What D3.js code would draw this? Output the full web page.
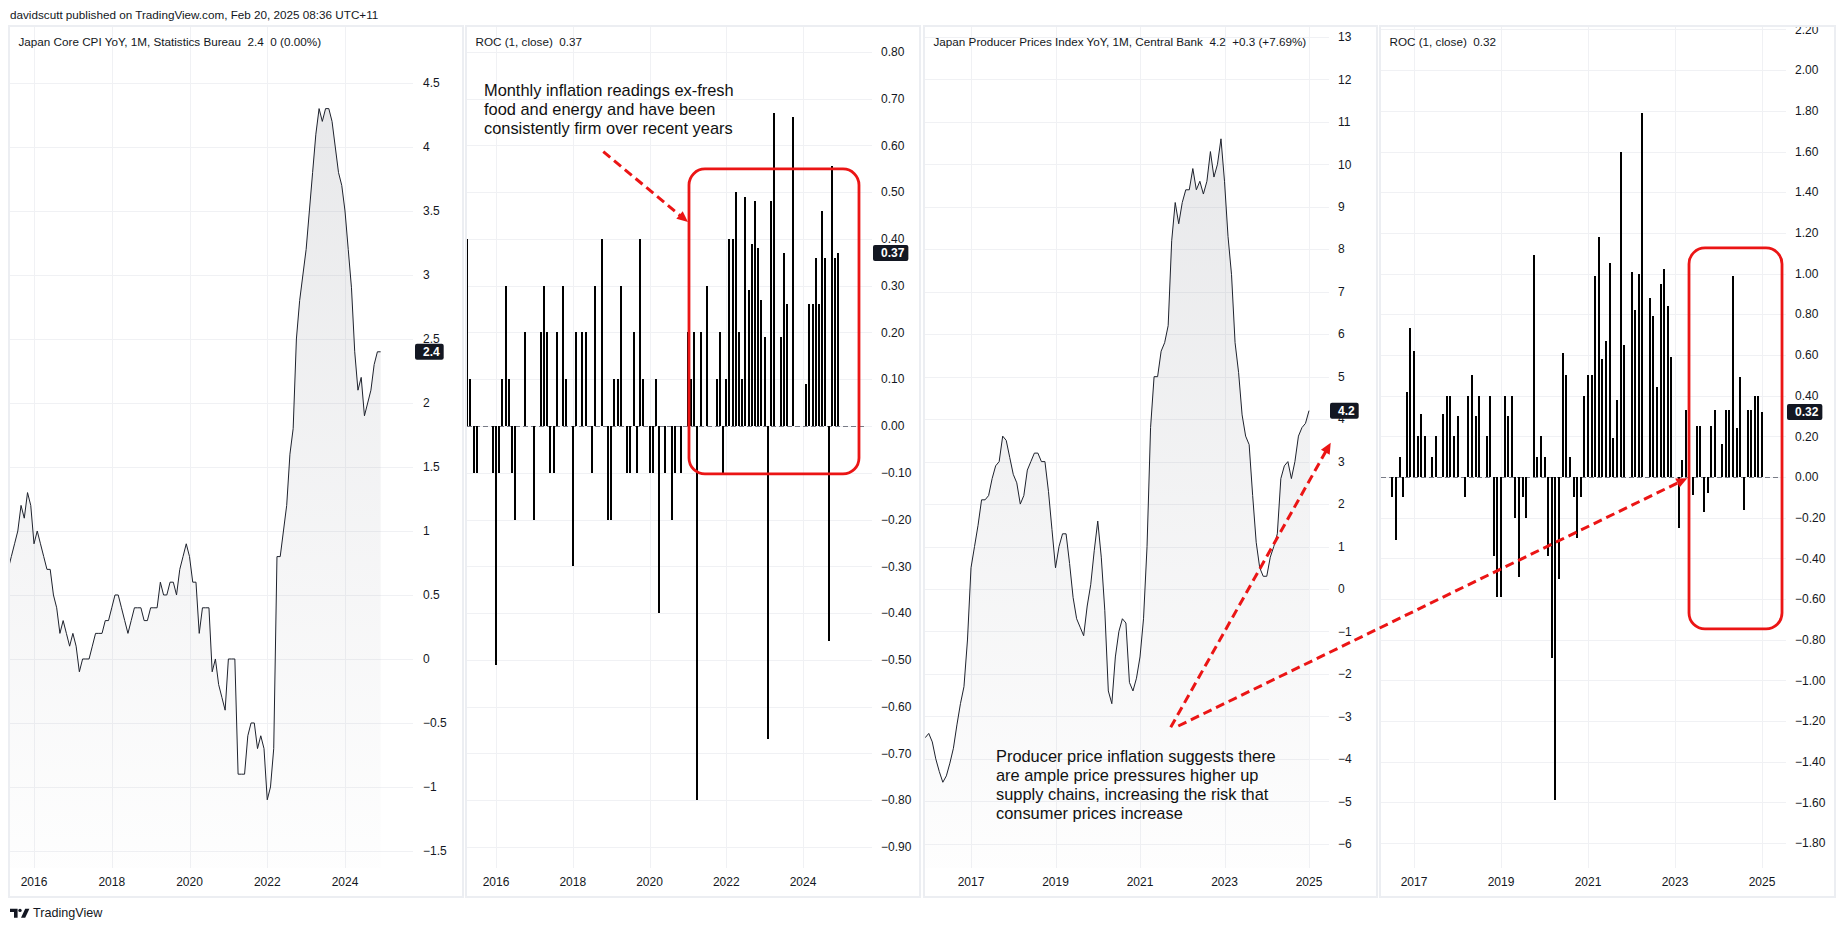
<!DOCTYPE html>
<html>
<head>
<meta charset="utf-8">
<script src="https://cdn.jsdelivr.net/npm/d3@7/dist/d3.min.js"></script>
<style>
body { margin: 0; background: #ffffff; }
svg text { font-family: "Liberation Sans", Arial, sans-serif; white-space: pre; }
</style>
</head>
<body>
<svg id="chart" width="1844" height="931"></svg>
<script>
// ---- monthly values ----
var cpiYoYStart = 2015 + 4 / 12;   // May 2015
var cpiYoY = [0.7, 0.8, 0.9, 1.0, 1.2, 1.1, 1.3, 1.2,
  0.9, 1.0, 0.9, 0.8, 0.7, 0.7, 0.5, 0.4, 0.2, 0.3, 0.2, 0.1,
  0.2, 0.1, -0.1, 0, 0, 0, 0.1, 0.2, 0.2, 0.2, 0.3, 0.3,
  0.4, 0.5, 0.5, 0.4, 0.3, 0.2, 0.3, 0.4, 0.4, 0.4, 0.3, 0.3,
  0.4, 0.4, 0.4, 0.6, 0.5, 0.5, 0.6, 0.6, 0.5, 0.7, 0.8, 0.9,
  0.8, 0.6, 0.6, 0.2, 0.4, 0.4, 0.4, -0.1, 0, -0.2, -0.3, -0.4,
  0, 0, 0, -0.9, -0.9, -0.9, -0.6, -0.5, -0.5, -0.7, -0.6, -0.7,
  -1.1, -1.0, -0.7, 0.8, 0.8, 1.0, 1.2, 1.6, 1.8, 2.5, 2.8, 3.0,
  3.2, 3.5, 3.8, 4.1, 4.3, 4.2, 4.3, 4.3, 4.2, 4.0, 3.8, 3.7,
  3.5, 3.2, 2.9, 2.4, 2.1, 2.2, 1.9, 2.0, 2.1, 2.3, 2.4, 2.4];

var cpiRocStart = 2015 + 3 / 12;   // Apr 2015
var cpiRoc = [0.4, 0.1, -0.1, -0.1, 0, 0, 0, 0, -0.1,
  -0.51, -0.1, 0.1, 0.3, 0.1, -0.1, -0.2, 0, 0, 0.2, 0, 0,
  -0.2, 0, 0.2, 0.3, 0.2, -0.1, -0.1, 0.2, 0, 0.3, 0.1, 0,
  -0.3, 0.2, 0, 0.2, 0.2, 0, -0.1, 0.3, 0, 0.4, 0, -0.2,
  -0.2, 0.1, 0.1, 0.3, 0, -0.1, -0.1, 0.2, -0.1, 0.4, 0.1, 0,
  -0.1, -0.1, 0.1, -0.4, 0, -0.1, 0, -0.2, -0.1, 0, -0.1, 0,
  0.2, 0.1, 0.2, -0.8, 0.2, 0, 0.3, 0, 0, 0.1, 0.2, -0.1,
  0.1, 0.4, 0.4, 0.5, 0.2, 0.1, 0.49, 0.29, 0.39, 0.48, 0.38, 0.27,
  0.19, -0.67, 0.48, 0.67, 0, 0.19, 0.37, 0.26, 0, 0.66, 0, 0,
  0, 0.09, 0.26, 0.26, 0.36, 0.26, 0.46, 0.36, -0.46, 0.555, 0.36, 0.37];

var ppiYoYStart = 2015 + 11 / 12;  // Dec 2015
var ppiYoY = [-3.5,
  -3.4, -3.6, -4.0, -4.3, -4.55, -4.4, -4.1, -3.75, -3.2, -2.7, -2.3, -1.2,
  0.5, 1.0, 1.5, 2.1, 2.1, 2.2, 2.6, 2.9, 3.0, 3.6, 3.5, 3.1,
  2.7, 2.5, 2.0, 2.2, 2.8, 3.0, 3.2, 3.2, 3.0, 3.0, 2.3, 1.4,
  0.5, 1.0, 1.3, 1.3, 0.6, -0.2, -0.7, -0.9, -1.1, -0.4, 0.1, 0.9,
  1.6, 0.75, -0.5, -2.4, -2.7, -1.6, -1.0, -0.7, -0.8, -2.2, -2.4, -2.1,
  -1.6, -0.7, 1.0, 3.8, 5.0, 5.0, 5.6, 5.8, 6.2, 8.2, 9.1, 8.6,
  9.1, 9.4, 9.4, 9.9, 9.4, 9.6, 9.3, 9.6, 10.3, 9.7, 10.0, 10.6,
  9.6, 8.3, 7.4, 5.8, 5.1, 4.1, 3.6, 3.4, 2.2, 1.1, 0.5, 0.3,
  0.3, 0.75, 1.0, 1.3, 2.6, 2.9, 3.0, 2.6, 3.0, 3.6, 3.8, 3.9,
  4.2];

var ppiRocStart = 2016 + 3 / 12;   // Apr 2016
var ppiRoc = [0, 0, 0, -0.1, -0.31, 0.1, -0.1, 0.42, 0.73,
  0.62, 0.2, 0.31, 0.2, 0, 0.1, 0.2, 0, 0.31, 0.4, 0.4, 0.2,
  0.3, 0, -0.1, 0.4, 0.5, 0.3, 0.4, 0, 0.2, 0.4, -0.39, -0.59,
  -0.59, 0.4, 0.3, 0.4, -0.2, -0.49, -0.1, -0.2, 0, 1.09, 0.1, 0.2,
  0.1, -0.39, -0.89, -1.59, -0.5, 0.61, 0.5, 0.1, -0.1, -0.3, -0.1, 0.4,
  0.5, 0.5, 0.99, 1.18, 0.58, 0.67, 1.05, 0.19, 0.38, 1.6, 0.65, 0,
  1.01, 0.82, 1.0, 1.79, 0, 0.88, 0.79, 0.44, 0.95, 1.02, 0.84, 0.59,
  0, -0.25, 0.085, 0.33, 0, -0.09, 0.25, 0.25, -0.17, -0.08, 0.25, 0.33,
  0, 0.16, 0.33, 0.33, 0.99, 0.24, 0.49, -0.16, 0.33, 0.33, 0.40, 0.40,
  0.32];

// ---- axis ticks ----
var cpiYears = [2016, 2018, 2020, 2022, 2024];
var ppiYears = [2017, 2019, 2021, 2023, 2025];
var cpiTicks = [4.5, 4, 3.5, 3, 2.5, 2, 1.5, 1, 0.5, 0, -0.5, -1, -1.5];
var cpiRocTicks = [0.8, 0.7, 0.6, 0.5, 0.4, 0.3, 0.2, 0.1, 0, -0.1, -0.2, -0.3, -0.4, -0.5, -0.6, -0.7, -0.8, -0.9];
var ppiTicks = [13, 12, 11, 10, 9, 8, 7, 6, 5, 4, 3, 2, 1, 0, -1, -2, -3, -4, -5, -6];
var ppiRocTicks = [2.2, 2.0, 1.8, 1.6, 1.4, 1.2, 1.0, 0.8, 0.6, 0.4, 0.2, 0, -0.2, -0.4, -0.6, -0.8, -1.0, -1.2, -1.4, -1.6, -1.8];

// ---- annotations, in chart units [decimal year, value] ----
var noteCpiText = ["Monthly inflation readings ex-fresh", "food and energy and have been", "consistently firm over recent years"];
var noteCpiAt = [2015.687, 0.706];
var noteCpiArrow = [[2018.796, 0.5865], [2021.003, 0.436]];
var noteCpiBox = [[2021.029, 0.5495], [2025.459, -0.1026]];
var notePpiText = ["Producer price inflation suggests there", "are ample price pressures higher up", "supply chains, increasing the risk that", "consumer prices increase"];
var notePpiAt = [2017.592, -4.066];
var notePpiArrow = [[2021.727, -3.256], [2025.514, 3.445]];
var notePpiArrow2 = [[2021.906, -3.226], [2023.283, -0.006]];   // ends on the ROC pane
var notePpiBox = [[2023.322, 1.126], [2025.46, -0.747]];

var svg = d3.select("#chart");
var defs = svg.append("defs");
var plotTop = 27, plotBottom = 868, frameTop = 26, frameBottom = 897;
var ink = "#131722";
var red = "#eb1515";

svg.append("text").attr("x", 10).attr("y", 15).attr("dy", "0.35em")
  .attr("font-size", 11.7).attr("fill", ink)
  .text("davidscutt published on TradingView.com, Feb 20, 2025 08:36 UTC+11");

var fmtPlain = d3.format("");
var fmt2 = d3.format(".2f");
var fmtInt = d3.format("d");

var panels = [
  { id: "p1", frame: [9, 463], plot: [10, 413], labelX: 423,
    years: cpiYears, yearAnchor: [2016, 2024], yearPx: [34, 345],
    yDomain: [-1.633, 4.9375], ticks: cpiTicks, fmt: fmtPlain, lastFmt: d3.format(".1f"),
    type: "area", start: cpiYoYStart, values: cpiYoY,
    title: "Japan Core CPI YoY, 1M, Statistics Bureau  2.4  0 (0.00%)" },
  { id: "p2", frame: [466, 920], plot: [467, 872], labelX: 881,
    years: cpiYears, yearAnchor: [2016, 2024], yearPx: [496, 803],
    yDomain: [-0.945, 0.853], ticks: cpiRocTicks, fmt: fmt2, lastFmt: fmt2,
    type: "bars", start: cpiRocStart, values: cpiRoc,
    title: "ROC (1, close)  0.37" },
  { id: "p3", frame: [924, 1377], plot: [925, 1329], labelX: 1338,
    years: ppiYears, yearAnchor: [2017, 2025], yearPx: [971, 1309],
    yDomain: [-6.569, 13.233], ticks: ppiTicks, fmt: fmtInt, lastFmt: d3.format(".1f"),
    type: "area", start: ppiYoYStart, values: ppiYoY,
    title: "Japan Producer Prices Index YoY, 1M, Central Bank  4.2  +0.3 (+7.69%)" },
  { id: "p4", frame: [1380, 1835], plot: [1381, 1786], labelX: 1795,
    years: ppiYears, yearAnchor: [2017, 2025], yearPx: [1414, 1762],
    yDomain: [-1.922, 2.212], ticks: ppiRocTicks, fmt: fmt2, lastFmt: fmt2,
    type: "bars", start: ppiRocStart, values: ppiRoc,
    title: "ROC (1, close)  0.32" }
];

function drawPanel(p) {
  var g = svg.append("g");
  var x = d3.scaleLinear().domain(p.yearAnchor).range(p.yearPx);
  var y = d3.scaleLinear().domain(p.yDomain).range([plotBottom, plotTop]);
  p.x = x; p.y = y;

  g.append("rect").attr("x", p.frame[0]).attr("y", frameTop)
    .attr("width", p.frame[1] - p.frame[0]).attr("height", frameBottom - frameTop)
    .attr("fill", "#fff").attr("stroke", "#eceef2").attr("stroke-width", 2);

  defs.append("clipPath").attr("id", "plot-" + p.id).append("rect")
    .attr("x", p.plot[0]).attr("y", plotTop)
    .attr("width", p.plot[1] - p.plot[0]).attr("height", plotBottom - plotTop);
  defs.append("clipPath").attr("id", "frame-" + p.id).append("rect")
    .attr("x", p.frame[0]).attr("y", plotTop)
    .attr("width", p.frame[1] - p.frame[0]).attr("height", frameBottom - plotTop);

  var grid = g.append("g").attr("clip-path", "url(#plot-" + p.id + ")")
    .attr("stroke", "#f0f1f4").attr("stroke-width", 1);
  grid.selectAll("line.h").data(p.ticks).enter().append("line")
    .attr("class", "h")
    .attr("x1", p.plot[0]).attr("x2", p.plot[1])
    .attr("y1", d => Math.round(y(d)) + 0.5).attr("y2", d => Math.round(y(d)) + 0.5);
  grid.selectAll("line.v").data(p.years).enter().append("line")
    .attr("class", "v")
    .attr("y1", plotTop).attr("y2", plotBottom)
    .attr("x1", d => Math.round(x(d)) + 0.5).attr("x2", d => Math.round(x(d)) + 0.5);

  var pts = p.values.map((v, i) => ({ t: p.start + i / 12, v: v }));
  var body = g.append("g").attr("clip-path", "url(#plot-" + p.id + ")");

  if (p.type == "area") {
    var gr = defs.append("linearGradient").attr("id", "grad-" + p.id)
      .attr("gradientUnits", "userSpaceOnUse")
      .attr("x1", 0).attr("x2", 0)
      .attr("y1", y(d3.max(p.values))).attr("y2", plotBottom);
    gr.append("stop").attr("offset", 0).attr("stop-color", "#787b86").attr("stop-opacity", 0.17);
    gr.append("stop").attr("offset", 1).attr("stop-color", "#787b86").attr("stop-opacity", 0.01);

    body.append("path").datum(pts)
      .attr("d", d3.area().x(d => x(d.t)).y0(plotBottom).y1(d => y(d.v)))
      .attr("fill", "url(#grad-" + p.id + ")");
    body.append("path").datum(pts)
      .attr("d", d3.line().x(d => x(d.t)).y(d => y(d.v)))
      .attr("fill", "none").attr("stroke", "#1e222d").attr("stroke-width", 1);
  } else {
    body.append("line")
      .attr("x1", p.plot[0]).attr("x2", p.plot[1] - 5)
      .attr("y1", Math.round(y(0)) + 0.5).attr("y2", Math.round(y(0)) + 0.5)
      .attr("stroke", "#787b86").attr("stroke-width", 1).attr("stroke-dasharray", "5,3");
    body.selectAll("rect.bar").data(pts.filter(d => d.v != 0)).enter().append("rect")
      .attr("class", "bar")
      .attr("x", d => Math.round(x(d.t)) - 1)
      .attr("width", 2)
      .attr("y", d => Math.min(y(d.v), y(0)))
      .attr("height", d => Math.abs(y(d.v) - y(0)))
      .attr("fill", "#000").attr("shape-rendering", "crispEdges");
  }

  var labels = g.append("g").attr("clip-path", "url(#frame-" + p.id + ")")
    .attr("font-size", 12).attr("fill", ink);
  labels.selectAll("text").data(p.ticks).enter().append("text")
    .attr("x", p.labelX).attr("y", d => y(d)).attr("dy", "0.35em")
    .text(p.fmt);

  g.append("g").attr("font-size", 12).attr("fill", ink).attr("text-anchor", "middle")
    .selectAll("text").data(p.years).enter().append("text")
    .attr("x", d => x(d)).attr("y", 882).attr("dy", "0.35em")
    .text(d => d);

  g.append("text").attr("x", p.frame[0] + 9.5).attr("y", 42).attr("dy", "0.35em")
    .attr("font-size", 11.7).attr("fill", ink).text(p.title);

  var lv = p.values[p.values.length - 1];
  var bx = g.append("g");
  var t = bx.append("text").attr("x", p.labelX).attr("y", y(lv)).attr("dy", "0.35em")
    .attr("font-size", 12).attr("font-weight", "bold").attr("fill", "#fff")
    .text(p.lastFmt(lv));
  var w = t.node().getComputedTextLength();
  bx.insert("rect", "text").attr("x", p.labelX - 8).attr("y", y(lv) - 8)
    .attr("width", w + 12).attr("height", 16).attr("rx", 2).attr("fill", ink);
}

panels.forEach(drawPanel);

// ---- annotations ----
var notes = svg.append("g");

function px(p, a) { return [p.x(a[0]), p.y(a[1])]; }

function dashedArrow(a, b) {
  var dx = b[0] - a[0], dy = b[1] - a[1], L = Math.hypot(dx, dy);
  var ux = dx / L, uy = dy / L, head = 11, half = 5;
  var base = [b[0] - ux * head, b[1] - uy * head];
  notes.append("line")
    .attr("x1", a[0]).attr("y1", a[1]).attr("x2", base[0] + ux * 2).attr("y2", base[1] + uy * 2)
    .attr("stroke", red).attr("stroke-width", 3).attr("stroke-dasharray", "9,5");
  notes.append("path")
    .attr("d", "M" + b[0] + "," + b[1] +
      "L" + (base[0] - uy * half) + "," + (base[1] + ux * half) +
      "L" + (base[0] + uy * half) + "," + (base[1] - ux * half) + "Z")
    .attr("fill", red);
}

function roundBox(p, box) {
  var a = px(p, box[0]), b = px(p, box[1]);
  notes.append("rect").attr("x", a[0]).attr("y", a[1])
    .attr("width", b[0] - a[0]).attr("height", b[1] - a[1])
    .attr("rx", 16).attr("fill", "none").attr("stroke", red).attr("stroke-width", 2.8);
}

function noteText(p, at, lines) {
  var a = px(p, at);
  notes.append("g").attr("font-size", 16.4).attr("fill", "#111")
    .selectAll("text").data(lines).enter().append("text")
    .attr("x", a[0]).attr("y", (d, i) => a[1] + i * 19.2)
    .text(d => d);
}

var P = panels;
noteText(P[1], noteCpiAt, noteCpiText);
dashedArrow(px(P[1], noteCpiArrow[0]), px(P[1], noteCpiArrow[1]));
roundBox(P[1], noteCpiBox);

noteText(P[2], notePpiAt, notePpiText);
dashedArrow(px(P[2], notePpiArrow[0]), px(P[2], notePpiArrow[1]));
dashedArrow(px(P[2], notePpiArrow2[0]), px(P[3], notePpiArrow2[1]));
roundBox(P[3], notePpiBox);

// ---- footer logo ----
var logo = svg.append("g").attr("fill", ink);
logo.append("path").attr("d", "M10,908.7H17.6V917.8H14V911.9H10Z");
logo.append("circle").attr("cx", 20).attr("cy", 910.4).attr("r", 1.7);
logo.append("path").attr("d", "M25.2,908.7H29.4L25.2,917.8H21Z");
svg.append("text").attr("x", 33).attr("y", 913).attr("dy", "0.35em")
  .attr("font-size", 12.6).attr("fill", ink).text("TradingView");
</script>
</body>
</html>
